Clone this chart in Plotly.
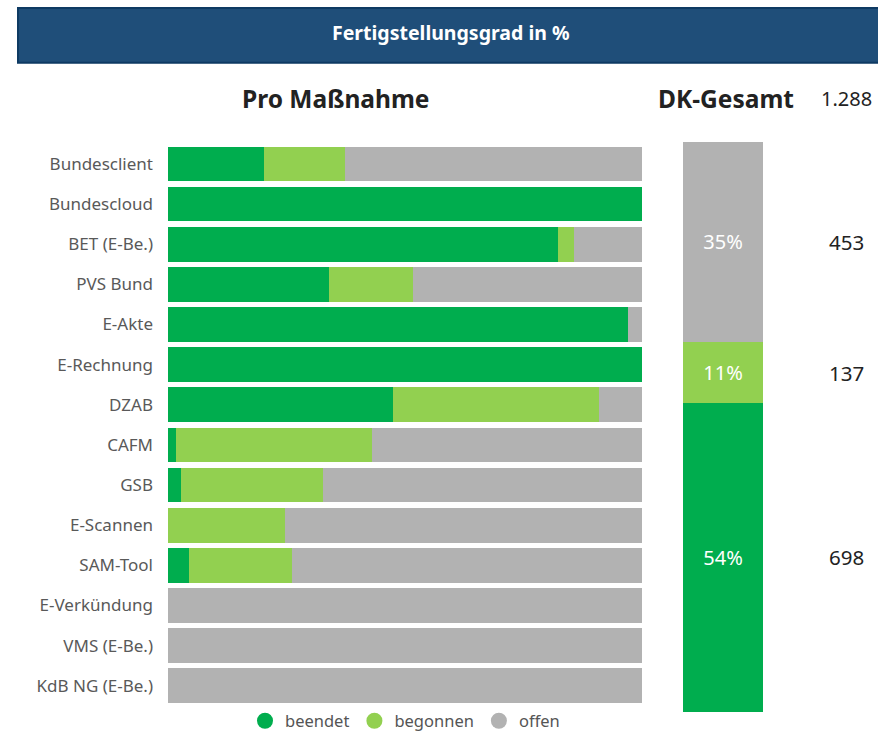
import plotly.graph_objects as go

W, H = 878, 739

categories = ["Bundesclient", "Bundescloud", "BET (E-Be.)", "PVS Bund", "E-Akte",
              "E-Rechnung", "DZAB", "CAFM", "GSB", "E-Scannen", "SAM-Tool",
              "E-Verkündung", "VMS (E-Be.)", "KdB NG (E-Be.)"]
beendet = [20.3, 100, 82.3, 34.0, 97.0, 100, 47.5, 1.7, 2.8, 0, 4.4, 0, 0, 0]
begonnen = [17.1, 0, 3.3, 17.7, 0, 0, 43.5, 41.3, 30.0, 24.7, 21.7, 0, 0, 0]
offen = [62.6, 0, 14.4, 48.3, 3.0, 0, 9.0, 57.0, 67.2, 75.3, 73.9, 100, 100, 100]

series_names = ["beendet", "begonnen", "offen"]
colors = ["#00AD4E", "#92D050", "#B2B2B2"]

gesamt_counts = [698, 137, 453]          # beendet, begonnen, offen
gesamt_total_label = "1.288"
gesamt_total = sum(gesamt_counts)
gesamt_pct = [c / gesamt_total * 100 for c in gesamt_counts]
gesamt_pct_labels = ["54%", "11%", "35%"]

FONT = "Noto Sans"

fig = go.Figure()

for name, vals, col in zip(series_names, [beendet, begonnen, offen], colors):
    fig.add_trace(go.Bar(
        y=categories, x=vals, orientation="h", name=name,
        marker=dict(color=col, line=dict(width=0)),
        xaxis="x", yaxis="y", showlegend=False, hoverinfo="name+x"))

for i, (name, col) in enumerate(zip(series_names, colors)):
    fig.add_trace(go.Bar(
        x=["DK-Gesamt"], y=[gesamt_pct[i]], name=name,
        marker=dict(color=col, line=dict(width=0)),
        text=[gesamt_pct_labels[i]], textposition="inside",
        insidetextanchor="middle",
        textfont=dict(color="white", size=20, family=FONT),
        xaxis="x2", yaxis="y2", showlegend=False))

# legend entries with circle markers
for name, col in zip(series_names, colors):
    fig.add_trace(go.Scatter(
        x=[None], y=[None], mode="markers", name=name,
        marker=dict(color=col, size=18, symbol="circle"),
        xaxis="x", yaxis="y", showlegend=True))

# count labels at right of the total bar
cum = 0
annotations = []
for pct, cnt in zip(gesamt_pct, gesamt_counts):
    annotations.append(dict(
        x=846 / W, xref="paper", y=cum + pct / 2, yref="y2",
        text=str(cnt), showarrow=False, yanchor="middle", xanchor="center",
        font=dict(size=20.5, color="#222222", family=FONT)))
    cum += pct

annotations += [
    dict(x=451 / W, y=1 - 33 / H, xref="paper", yref="paper",
         yanchor="middle", xanchor="center",
         text="<b>Fertigstellungsgrad in %</b>", showarrow=False,
         font=dict(size=19.5, color="white", family=FONT)),
    dict(x=335 / W, y=1 - 99 / H, xref="paper", yref="paper",
         yanchor="middle", xanchor="center",
         text="<b>Pro Maßnahme</b>", showarrow=False,
         font=dict(size=24.5, color="#222222", family=FONT)),
    dict(x=726 / W, y=1 - 99 / H, xref="paper", yref="paper",
         yanchor="middle", xanchor="center",
         text="<b>DK-Gesamt</b>", showarrow=False,
         font=dict(size=24.5, color="#222222", family=FONT)),
    dict(x=846 / W, y=1 - 99 / H, xref="paper", yref="paper",
         yanchor="middle", xanchor="center",
         text=gesamt_total_label, showarrow=False,
         font=dict(size=20, color="#222222", family=FONT)),
]

shapes = [dict(type="rect", xref="paper", yref="paper",
               x0=18 / W, x1=1.01, y0=1 - 63 / H, y1=1 - 8 / H,
               fillcolor="#1F4E79", line=dict(color="#0E3A63", width=2),
               layer="below")]

fig.update_layout(
    width=W, height=H,
    margin=dict(l=0, r=0, t=0, b=0),
    paper_bgcolor="white", plot_bgcolor="white",
    barmode="stack", bargap=0.135,
    font=dict(family=FONT),
    showlegend=True,
    legend=dict(orientation="h", x=405 / W, xanchor="center",
                y=1 - 723 / H, yanchor="middle", traceorder="normal",
                font=dict(size=16.5, color="#555555", family=FONT),
                itemwidth=30, itemsizing="trace",
                bgcolor="rgba(0,0,0,0)"),
    xaxis=dict(domain=[168 / W, 642 / W], range=[0, 100], visible=False,
               fixedrange=True),
    yaxis=dict(domain=[1 - 707.7 / H, 1 - 144.3 / H], autorange="reversed",
               type="category", showgrid=False, zeroline=False, showline=False,
               ticks="", ticklabelstandoff=14,
               tickfont=dict(size=17, color="#595959", family=FONT)),
    xaxis2=dict(domain=[683 / W, 763 / W], anchor="y2", visible=False,
                range=[-0.5, 0.5]),
    yaxis2=dict(domain=[1 - 714 / H, 1 - 142 / H], anchor="x2", range=[0, 100],
                visible=False),
    annotations=annotations,
    shapes=shapes,
)
fig.update_traces(selector=dict(xaxis="x2"), width=1.0)

fig.write_html("out.html")
